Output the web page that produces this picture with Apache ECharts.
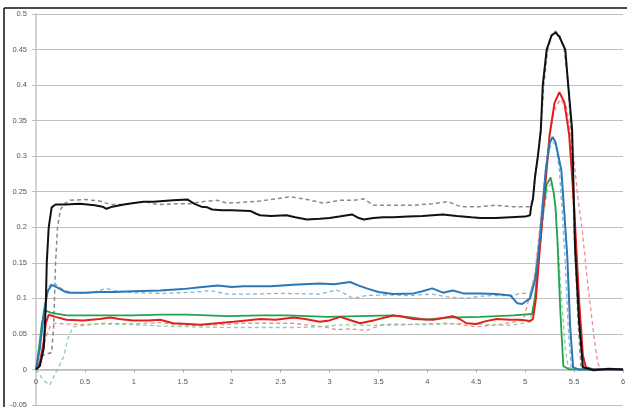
<!DOCTYPE html>
<html>
<head>
<meta charset="utf-8">
<script src="https://cdn.jsdelivr.net/npm/echarts@6/dist/echarts.min.js"></script>
<style>
  html, body { margin: 0; padding: 0; background: #fff; }
  #chart { width: 627px; height: 407px; }
</style>
</head>
<body>
<div id="chart"></div>
<script>
// axis ticks
const xTicks = { min: 0, max: 6, step: 0.5 }
const yTicks = { min: -0.05, max: 0.5, step: 0.05 }

// [x, y] readings per trace
const blackSolid = [[0,0],[0.04,0.005],[0.08,0.03],[0.1,0.09],[0.11,0.15],[0.13,0.2],[0.16,0.228],[0.2,0.232],[0.3,0.232],[0.45,0.233],[0.6,0.231],[0.68,0.229],[0.72,0.226],[0.78,0.229],[0.9,0.232],[1.0,0.234],[1.1,0.236],[1.2,0.236],[1.3,0.237],[1.4,0.238],[1.55,0.239],[1.62,0.233],[1.69,0.229],[1.75,0.228],[1.8,0.225],[1.9,0.224],[2.0,0.224],[2.19,0.223],[2.25,0.219],[2.29,0.217],[2.4,0.216],[2.56,0.217],[2.65,0.214],[2.77,0.211],[2.9,0.212],[3.0,0.213],[3.1,0.215],[3.23,0.218],[3.3,0.213],[3.35,0.211],[3.45,0.213],[3.55,0.214],[3.65,0.214],[3.8,0.215],[3.95,0.216],[4.16,0.218],[4.3,0.216],[4.45,0.214],[4.54,0.213],[4.7,0.213],[4.85,0.214],[5.0,0.215],[5.05,0.217],[5.06,0.228],[5.08,0.24],[5.1,0.27],[5.13,0.3],[5.16,0.337],[5.18,0.4],[5.22,0.45],[5.27,0.47],[5.31,0.474],[5.35,0.468],[5.41,0.45],[5.44,0.4],[5.48,0.337],[5.51,0.17],[5.55,0.07],[5.59,0.003],[5.7,-0.001],[5.85,0.001],[6,0]]
const grayDashed = [[0,0],[0.04,0.008],[0.07,0.02],[0.12,0.022],[0.16,0.024],[0.18,0.06],[0.2,0.15],[0.22,0.2],[0.25,0.225],[0.3,0.234],[0.35,0.238],[0.5,0.239],[0.65,0.237],[0.76,0.232],[0.89,0.232],[1.0,0.234],[1.13,0.236],[1.2,0.233],[1.27,0.232],[1.4,0.233],[1.57,0.233],[1.7,0.236],[1.85,0.238],[1.95,0.234],[2.1,0.235],[2.29,0.237],[2.45,0.24],[2.6,0.243],[2.77,0.239],[2.94,0.234],[3.11,0.238],[3.25,0.238],[3.35,0.24],[3.45,0.231],[3.6,0.231],[3.86,0.231],[4.05,0.233],[4.21,0.236],[4.34,0.229],[4.54,0.229],[4.7,0.231],[4.85,0.229],[5.05,0.229],[5.08,0.24],[5.1,0.27],[5.13,0.3],[5.16,0.335],[5.19,0.4],[5.23,0.45],[5.27,0.47],[5.31,0.476],[5.35,0.47],[5.4,0.45],[5.44,0.4],[5.47,0.335],[5.5,0.2],[5.54,0.07],[5.57,0.005],[5.7,0],[6,-0.001]]
const blueSolid = [[0,0],[0.04,0.03],[0.08,0.08],[0.12,0.11],[0.16,0.119],[0.22,0.115],[0.3,0.109],[0.35,0.108],[0.5,0.108],[0.65,0.109],[0.8,0.109],[0.99,0.11],[1.27,0.111],[1.5,0.113],[1.7,0.116],[1.86,0.118],[2.0,0.116],[2.12,0.117],[2.4,0.117],[2.63,0.119],[2.9,0.121],[3.05,0.12],[3.21,0.123],[3.3,0.118],[3.38,0.114],[3.5,0.109],[3.65,0.106],[3.86,0.107],[3.95,0.11],[4.05,0.114],[4.16,0.108],[4.26,0.111],[4.37,0.107],[4.54,0.107],[4.7,0.106],[4.85,0.104],[4.92,0.093],[4.97,0.092],[5.05,0.1],[5.1,0.125],[5.12,0.144],[5.15,0.182],[5.18,0.23],[5.21,0.28],[5.25,0.318],[5.28,0.327],[5.31,0.32],[5.34,0.3],[5.37,0.28],[5.4,0.22],[5.43,0.16],[5.46,0.06],[5.49,0.003],[5.55,0],[6,0]]
const blueDashed = [[0,0],[0.04,0.035],[0.08,0.085],[0.12,0.115],[0.17,0.122],[0.22,0.118],[0.28,0.112],[0.35,0.109],[0.45,0.107],[0.6,0.109],[0.72,0.114],[0.8,0.111],[0.86,0.11],[1.0,0.108],[1.27,0.107],[1.5,0.108],[1.65,0.109],[1.78,0.111],[1.95,0.106],[2.2,0.106],[2.5,0.107],[2.9,0.106],[3.07,0.112],[3.15,0.107],[3.24,0.1],[3.38,0.104],[3.6,0.105],[3.8,0.104],[4.05,0.106],[4.2,0.102],[4.4,0.1],[4.54,0.103],[4.7,0.104],[4.88,0.104],[4.95,0.107],[5.05,0.107],[5.1,0.13],[5.14,0.18],[5.18,0.24],[5.22,0.29],[5.26,0.315],[5.29,0.32],[5.32,0.31],[5.35,0.28],[5.38,0.22],[5.41,0.15],[5.44,0.06],[5.47,0.003],[5.55,0],[6,0]]
const redSolid = [[0,0],[0.04,0.01],[0.08,0.04],[0.1,0.065],[0.13,0.077],[0.2,0.074],[0.31,0.07],[0.48,0.069],[0.65,0.071],[0.76,0.073],[0.85,0.071],[0.99,0.069],[1.15,0.069],[1.27,0.07],[1.4,0.065],[1.55,0.064],[1.68,0.063],[1.85,0.065],[2.02,0.067],[2.15,0.069],[2.29,0.071],[2.45,0.07],[2.63,0.073],[2.75,0.071],[2.9,0.067],[3.0,0.069],[3.11,0.074],[3.2,0.07],[3.31,0.065],[3.45,0.069],[3.65,0.076],[3.75,0.074],[3.86,0.071],[4.06,0.07],[4.15,0.072],[4.26,0.075],[4.33,0.071],[4.4,0.065],[4.5,0.064],[4.6,0.068],[4.71,0.071],[4.85,0.07],[4.95,0.07],[5.05,0.068],[5.08,0.071],[5.11,0.1],[5.15,0.17],[5.2,0.25],[5.25,0.33],[5.3,0.375],[5.35,0.39],[5.4,0.376],[5.45,0.33],[5.5,0.23],[5.55,0.1],[5.59,0.02],[5.62,0.003],[5.7,0],[6,0]]
const redDashed = [[0,0],[0.05,0.015],[0.1,0.045],[0.15,0.062],[0.2,0.065],[0.31,0.064],[0.5,0.063],[0.7,0.065],[0.99,0.064],[1.27,0.066],[1.45,0.063],[1.6,0.062],[1.9,0.063],[2.1,0.065],[2.29,0.065],[2.63,0.065],[2.8,0.062],[2.94,0.06],[3.07,0.056],[3.2,0.057],[3.38,0.055],[3.52,0.062],[3.8,0.063],[4.0,0.064],[4.2,0.065],[4.35,0.063],[4.5,0.06],[4.65,0.062],[4.78,0.064],[4.98,0.069],[5.04,0.1],[5.1,0.135],[5.15,0.2],[5.2,0.27],[5.25,0.33],[5.3,0.365],[5.36,0.38],[5.42,0.37],[5.48,0.32],[5.54,0.24],[5.58,0.2],[5.64,0.12],[5.7,0.05],[5.74,0.01],[5.77,0],[6,0]]
const greenSolid = [[0,0],[0.03,0.03],[0.06,0.065],[0.09,0.083],[0.15,0.08],[0.31,0.076],[0.5,0.076],[0.99,0.076],[1.27,0.077],[1.55,0.077],[1.95,0.075],[2.3,0.076],[2.57,0.076],[2.98,0.074],[3.3,0.075],[3.65,0.076],[3.85,0.073],[3.99,0.07],[4.2,0.073],[4.54,0.074],[4.88,0.076],[5.07,0.078],[5.1,0.1],[5.14,0.16],[5.18,0.22],[5.22,0.26],[5.26,0.27],[5.29,0.25],[5.31,0.228],[5.33,0.18],[5.36,0.08],[5.39,0.005],[5.45,0],[6,0]]
const greenDashed = [[0,0],[0.05,-0.01],[0.1,-0.018],[0.14,-0.022],[0.2,-0.005],[0.28,0.017],[0.33,0.045],[0.38,0.06],[0.5,0.062],[0.62,0.064],[0.99,0.063],[1.3,0.061],[1.6,0.06],[2.0,0.059],[2.63,0.059],[2.9,0.06],[3.15,0.063],[3.4,0.062],[3.65,0.064],[4.0,0.063],[4.4,0.065],[4.6,0.063],[4.85,0.062],[5.05,0.067],[5.1,0.1],[5.14,0.16],[5.19,0.22],[5.23,0.255],[5.27,0.262],[5.3,0.24],[5.33,0.19],[5.37,0.1],[5.41,0.03],[5.44,0.003],[5.5,0],[6,0]]

const chart = echarts.init(document.getElementById('chart'))

function trace(data, color, width, dashed) {
  return {
    type: 'line',
    data: data,
    showSymbol: false,
    animation: false,
    lineStyle: { color: color, width: width, type: dashed ? [4, 3] : 'solid' }
  }
}

const labelFont = { fontFamily: 'Liberation Sans', fontSize: 7.5, color: '#555' }

// plot box: 391px tall over 0.55 units, so the zero line sits one step above the bottom
const gridTop = 14
const gridBottom = 2
const plotH = 407 - gridTop - gridBottom
const zeroOffset = -plotH * (0 - yTicks.min) / (yTicks.max - yTicks.min)

const option = {
  backgroundColor: '#fff',
  animation: false,
  grid: { left: 36, right: 4, top: gridTop, bottom: gridBottom, outerBoundsMode: 'none', containLabel: false },
  graphic: [
    { type: 'line', shape: { x1: 4, y1: 8, x2: 627, y2: 8 }, style: { stroke: '#111', lineWidth: 1.5 } },
    { type: 'line', shape: { x1: 4, y1: 8, x2: 4, y2: 407 }, style: { stroke: '#111', lineWidth: 1.5 } }
  ],
  xAxis: {
    type: 'value',
    min: xTicks.min,
    max: xTicks.max,
    interval: xTicks.step,
    position: 'bottom',
    offset: zeroOffset,
    axisLine: { onZero: false, lineStyle: { color: '#bbb', width: 1.5 } },
    axisTick: { show: true, length: 3, lineStyle: { color: '#aaa' } },
    axisLabel: Object.assign({ margin: 8 }, labelFont),
    splitLine: { show: false }
  },
  yAxis: {
    type: 'value',
    min: yTicks.min,
    max: yTicks.max,
    interval: yTicks.step,
    axisLine: { show: true, onZero: false, lineStyle: { color: '#c4c4c4', width: 1.5 } },
    axisTick: { show: true, length: 4, lineStyle: { color: '#bbb' } },
    axisLabel: Object.assign({ margin: 9 }, labelFont),
    splitLine: { lineStyle: { color: '#c0c0c0', width: 1.2 } }
  },
  series: [
    trace(grayDashed, '#8a8a8a', 1.5, true),
    trace(blueDashed, '#82b5d8', 1.3, true),
    trace(redDashed, '#f08c8c', 1.3, true),
    trace(greenDashed, '#8ccfa2', 1.3, true),
    trace(greenSolid, '#22a34f', 1.8, false),
    trace(redSolid, '#e0201e', 2, false),
    trace(blueSolid, '#2a78b8', 2, false),
    trace(blackSolid, '#111', 2, false)
  ]
}

chart.setOption(option)
</script>
</body>
</html>
